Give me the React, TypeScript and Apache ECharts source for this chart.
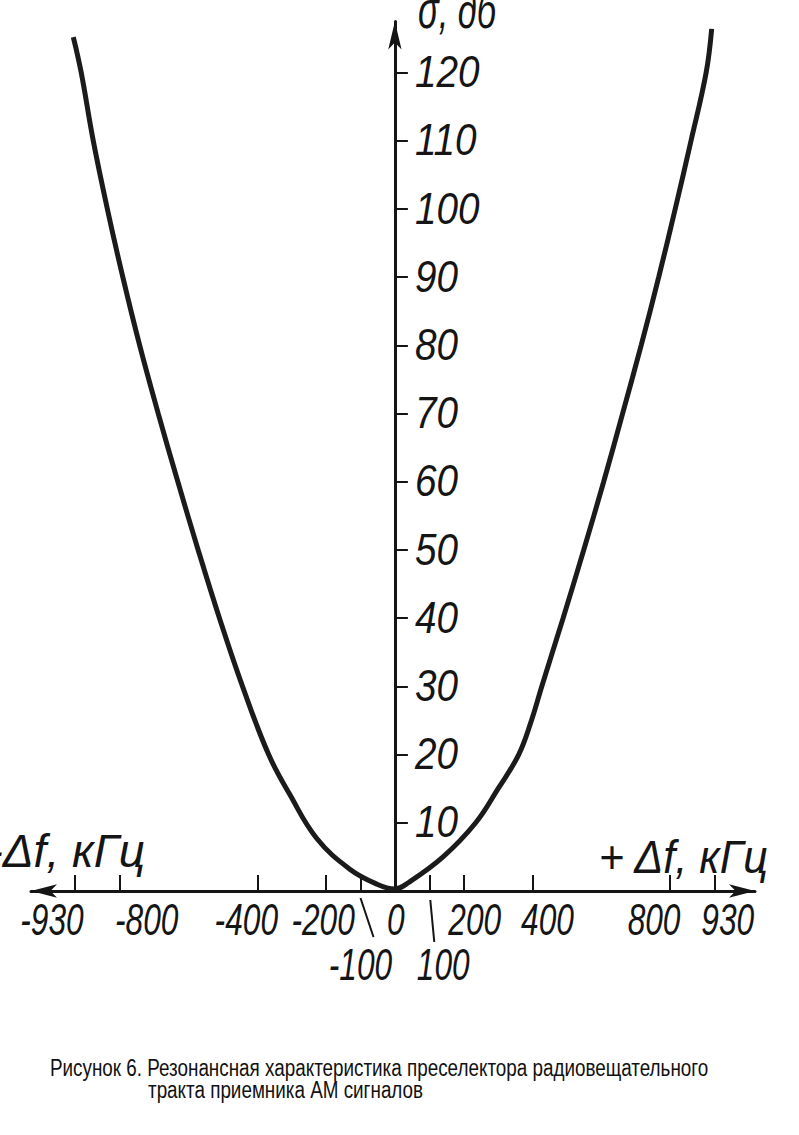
import React, { useEffect, useRef } from "react";
import * as echarts from "echarts";

// Resonance curve of the preselector: detuning Δf (kHz) vs attenuation σ (dB)
const curveFreq = [
  -935, -912, -877, -836, -791, -742, -688, -631, -572, -510,
  -443, -367, -305, -227, -131, -52, 0,
  40, 140, 235, 300, 360, 397, 427, 489, 549, 607,
  662, 716, 767, 815, 861, 905, 921,
];
const curveSigma = [
  125.2, 120, 110, 100, 90, 80, 70, 60, 50, 40,
  30, 20, 14.1, 7.7, 3.2, 1.0, 0.3,
  1.25, 5, 10, 15, 20, 25, 30, 40, 50, 60,
  70, 80, 90, 100, 110, 120, 126.4,
];
const xTickValues = [-930, -800, -400, -200, -100, 100, 200, 400, 800, 930];
const xLabelValues = [-930, -800, -400, -200, -100, 0, 100, 200, 400, 800, 930];
const yTickValues = [10, 20, 30, 40, 50, 60, 70, 80, 90, 100, 110, 120];

const xAxisNameLeft = "-Δf, кГц";
const xAxisNameRight = "+ Δf, кГц";
const yAxisName = "σ, дб";
const captionLine1 = "Рисунок 6. Резонансная характеристика преселектора радиовещательного";
const captionLine2 = "тракта приемника АМ сигналов";

// hand-lettered label nudges (style only): [dx px, second row?]
const labelNudge: Record<string, [number, number]> = {
  "-930": [-23, 0], "-800": [27, 0], "-400": [-11, 0], "-200": [-3, 0],
  "-100": [0, 1], "0": [1, 0], "100": [14, 1], "200": [11, 0],
  "400": [15, 0], "800": [-16, 0], "930": [13, 0],
};

const FONT = '"Liberation Sans", Arial, sans-serif';
const INK = "#151515";

export default function App() {
  const ref = useRef<HTMLDivElement>(null);
  useEffect(() => {
    if (!ref.current) return;
    const chart = echarts.init(ref.current, undefined, { renderer: "svg" });

    const data = curveFreq.map((f, i) => [f, curveSigma[i]]);

    chart.setOption({
      animation: false,
      backgroundColor: "#ffffff",
      grid: { left: 31, right: 44, top: 21.4, bottom: 244, containLabel: false },
      xAxis: {
        type: "value",
        min: -1058,
        max: 1047,
        axisLine: {
          onZero: true,
          symbol: ["arrow", "arrow"],
          symbolSize: [10, 26],
          lineStyle: { color: INK, width: 3 },
        },
        axisTick: {
          show: true,
          inside: true,
          length: 16,
          customValues: xTickValues,
          lineStyle: { color: INK, width: 2 },
        },
        axisLabel: { show: false },
        splitLine: { show: false },
      },
      yAxis: {
        type: "value",
        min: 0,
        max: 127.5,
        axisLine: {
          onZero: true,
          symbol: ["none", "arrow"],
          symbolSize: [10, 28],
          lineStyle: { color: INK, width: 3 },
        },
        axisTick: {
          show: true,
          inside: true,
          length: 13,
          customValues: yTickValues,
          lineStyle: { color: INK, width: 2 },
        },
        axisLabel: { show: false },
        splitLine: { show: false },
      },
      series: [
        {
          type: "line",
          data,
          smooth: 0.4,
          symbol: "none",
          lineStyle: { color: "#1b1b1b", width: 5 },
          silent: true,
        },
      ],
    });

    const toPx = (x: number, y: number) =>
      chart.convertToPixel({ xAxisIndex: 0, yAxisIndex: 0 }, [x, y]) as number[];

    const graphics: any[] = [];

    // x tick labels (hand-lettered, condensed italic)
    xLabelValues.forEach((v) => {
      const [dx, row] = labelNudge[String(v)] || [0, 0];
      const p = toPx(v, 0);
      graphics.push({
        type: "text",
        x: p[0] + dx,
        y: row ? 965 : 920,
        scaleX: 0.72,
        style: {
          text: String(v),
          font: "italic 44px " + FONT,
          fill: INK,
          textAlign: "center",
          textVerticalAlign: "middle",
        },
      });
    });

    // y tick labels
    yTickValues.forEach((v) => {
      const p = toPx(0, v);
      graphics.push({
        type: "text",
        x: p[0] + 20,
        y: p[1] - 1,
        scaleX: 0.86,
        style: {
          text: String(v),
          font: "italic 45px " + FONT,
          fill: INK,
          textAlign: "left",
          textVerticalAlign: "middle",
        },
      });
    });

    // leader strokes for the -100 and 100 labels
    const p100n = toPx(-100, 0);
    const p100 = toPx(100, 0);
    graphics.push(
      {
        type: "line",
        shape: { x1: p100n[0], y1: p100n[1] + 7, x2: p100n[0] + 13, y2: p100n[1] + 46 },
        style: { stroke: INK, lineWidth: 2 },
      },
      {
        type: "line",
        shape: { x1: p100[0] + 1, y1: p100[1] + 9, x2: p100[0] + 5, y2: p100[1] + 51 },
        style: { stroke: INK, lineWidth: 2 },
      }
    );

    graphics.push(
      {
        type: "text",
        x: 145,
        y: 851,
        scaleX: 1.0,
        style: {
          text: xAxisNameLeft,
          font: "italic 46px " + FONT,
          fill: INK,
          textAlign: "right",
          textVerticalAlign: "middle",
        },
      },
      {
        type: "text",
        x: 768,
        y: 857,
        scaleX: 0.94,
        style: {
          text: xAxisNameRight,
          font: "italic 46px " + FONT,
          fill: INK,
          textAlign: "right",
          textVerticalAlign: "middle",
        },
      },
      {
        type: "text",
        x: 418,
        y: 10,
        scaleX: 0.66,
        style: {
          text: yAxisName,
          font: "italic 52px " + FONT,
          fill: INK,
          textAlign: "left",
          textVerticalAlign: "middle",
        },
      },
      {
        type: "text",
        x: 50,
        y: 1068,
        scaleX: 0.82,
        style: {
          text: captionLine1,
          font: "23px " + FONT,
          fill: "#111",
          textAlign: "left",
          textVerticalAlign: "middle",
        },
      },
      {
        type: "text",
        x: 148,
        y: 1090,
        scaleX: 0.82,
        style: {
          text: captionLine2,
          font: "23px " + FONT,
          fill: "#111",
          textAlign: "left",
          textVerticalAlign: "middle",
        },
      }
    );

    chart.setOption({ graphic: graphics });

    return () => chart.dispose();
  }, []);

  return (
    <div
      ref={ref}
      style={{ position: "fixed", left: 0, top: 0, width: 799, height: 1135, background: "#fff" }}
    />
  );
}
